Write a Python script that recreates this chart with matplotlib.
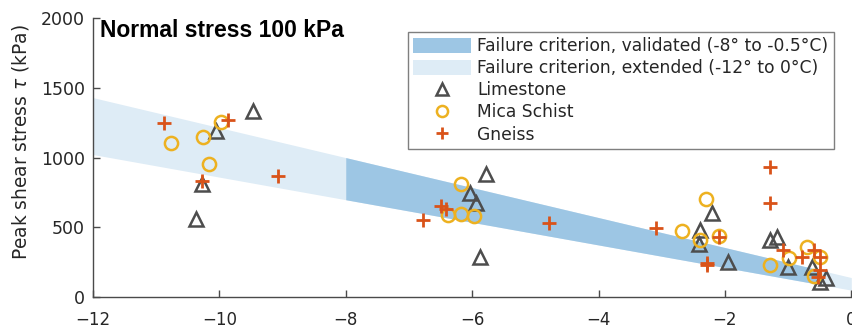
import numpy as np
import matplotlib
matplotlib.use("Agg")
import matplotlib.pyplot as plt
from matplotlib.patches import Patch
from matplotlib.lines import Line2D

# -----------------------------------
# Data
# -----------------------------------

# Failure criterion envelope (shear stress range vs temperature)
band_temp = np.array([-12.0, -8.0, -0.5, 0.0])
band_upper = np.array([1430, 1000, 194, 140])
band_lower = np.array([1022, 698, 90, 50])

# Limestone
lime_temp = [-9.47, -10.05, -10.28, -10.37, -6.03, -5.94, -5.78, -5.87,
             -2.2, -2.4, -2.41, -1.95, -1.28, -1.18, -1.0, -0.62, -0.5, -0.4]
lime_tau = [1333, 1190, 810, 560, 745, 674, 882, 287,
            604, 478, 380, 253, 410, 428, 215, 217, 110, 138]

# Mica Schist
mica_temp = [-10.77, -10.26, -9.98, -10.16, -6.17, -6.38, -6.17, -5.97,
             -2.3, -2.68, -2.39, -2.09, -1.29, -0.99, -0.70, -0.49, -0.59]
mica_tau = [1106, 1149, 1252, 951, 810, 588, 593, 581,
            700, 475, 409, 437, 229, 277, 356, 289, 150]

# Gneiss
gneiss_temp = [-10.88, -9.87, -10.28, -9.07, -6.78, -6.5, -6.41, -4.78,
               -3.09, -2.09, -2.29, -2.29, -1.29, -1.29, -1.08, -0.78,
               -0.59, -0.49, -0.49, -0.52]
gneiss_tau = [1245, 1269, 832, 870, 552, 652, 629, 533,
              492, 428, 229, 245, 934, 671, 337, 289,
              337, 289, 194, 146]

# -----------------------------------
# Colours
# -----------------------------------
c_valid = "#9dc6e4"
c_ext = "#deecf6"
c_lime = "#4d4d4d"
c_mica = "#edb120"
c_gneiss = "#d95319"
c_axis = "#4a4a4a"

plt.rcParams["font.family"] = "DejaVu Sans"

fig = plt.figure(figsize=(8.53, 3.29), dpi=100)
ax = fig.add_axes([0.109, 0.097, 0.889, 0.848])

# Extended criterion over the full range, validated part on top
ax.fill_between(band_temp, band_lower, band_upper, color=c_ext, lw=0, zorder=1)
mask = (band_temp >= -8) & (band_temp <= -0.5)
ax.fill_between(band_temp[mask], band_lower[mask], band_upper[mask],
                color=c_valid, lw=0, zorder=2)

ax.plot(lime_temp, lime_tau, ls="none", marker="^", ms=9.5, mfc="none",
        mec=c_lime, mew=1.8, zorder=3)
ax.plot(mica_temp, mica_tau, ls="none", marker="o", ms=9.5, mfc="none",
        mec=c_mica, mew=1.8, zorder=4)
ax.plot(gneiss_temp, gneiss_tau, ls="none", marker="+", ms=10,
        mec=c_gneiss, mew=2.0, zorder=5)

ax.set_xlim(-12, 0)
ax.set_ylim(0, 2000)
ax.set_xticks(np.arange(-12, 1, 2))
ax.set_yticks(np.arange(0, 2001, 500))

for side in ["top", "right"]:
    ax.spines[side].set_visible(False)
for side in ["left", "bottom"]:
    ax.spines[side].set_color(c_axis)
    ax.spines[side].set_linewidth(1.0)
ax.tick_params(direction="in", length=5, width=1.0, colors=c_axis,
               labelcolor="#262626", labelsize=12.5)
ax.tick_params(axis="y", pad=6)
ax.tick_params(axis="x", pad=10, labelsize=12)

ax.set_ylabel(r"Peak shear stress $\tau$ (kPa)", fontsize=13.4, color="#262626")
ax.yaxis.set_label_coords(-0.082, 0.554)

ax.text(-11.89, 1914, "Normal stress 100 kPa", fontsize=16.5, fontweight="bold",
        family="Liberation Sans", va="center", ha="left", color="black")

handles = [
    Patch(facecolor=c_valid, edgecolor="none"),
    Patch(facecolor=c_ext, edgecolor="none"),
    Line2D([], [], ls="none", marker="^", ms=8, mfc="none", mec=c_lime, mew=1.8),
    Line2D([], [], ls="none", marker="o", ms=8, mfc="none", mec=c_mica, mew=1.8),
    Line2D([], [], ls="none", marker="+", ms=9, mec=c_gneiss, mew=2.0),
]
labels = [
    "Failure criterion, validated (-8° to -0.5°C)",
    "Failure criterion, extended (-12° to 0°C)",
    "Limestone",
    "Mica Schist",
    "Gneiss",
]
leg = ax.legend(handles, labels, loc="upper left", bbox_to_anchor=(0.4156, 0.95),
                fontsize=12.3, frameon=True, fancybox=False, framealpha=1,
                edgecolor="#7f7f7f", handlelength=3.4, handleheight=0.95,
                handletextpad=0.35, labelspacing=0.24, borderpad=0.3,
                borderaxespad=0)
leg.get_frame().set_linewidth(1.0)
for t in leg.get_texts():
    t.set_color("#262626")

fig.savefig("out.png", dpi=100)
